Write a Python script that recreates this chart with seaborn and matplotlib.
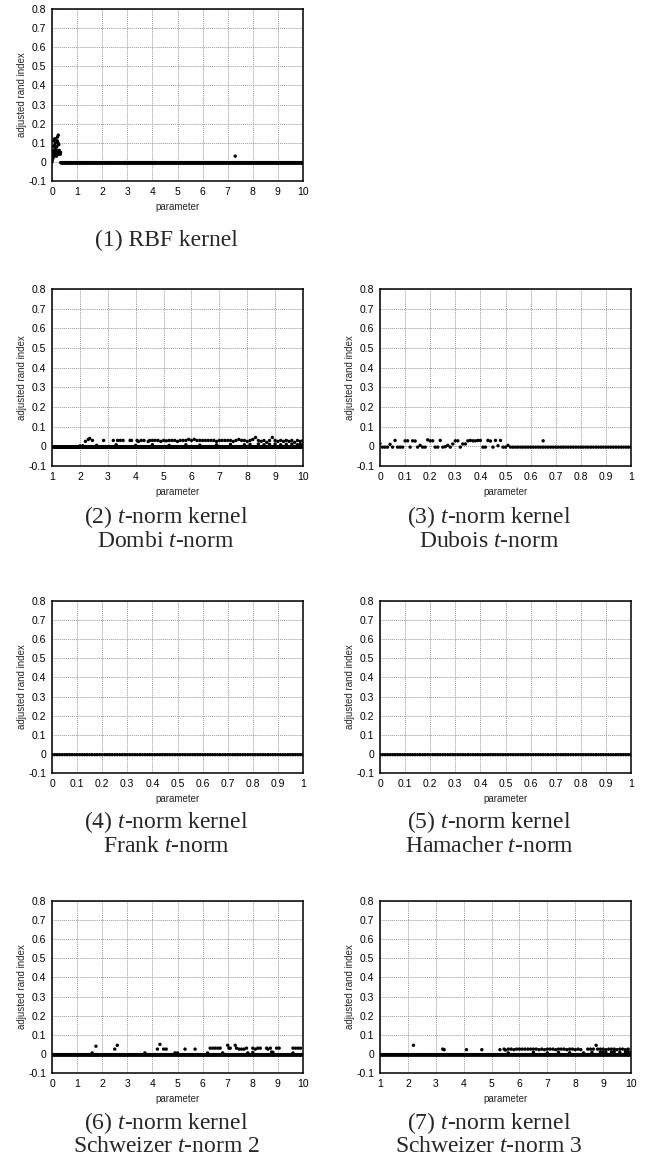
import numpy as np
import pandas as pd
import matplotlib
matplotlib.use("Agg")
import matplotlib.pyplot as plt
import seaborn as sns

sns.set_style("white")
plt.rcParams['font.family'] = ['Liberation Sans', 'DejaVu Sans']
plt.rcParams['mathtext.fontset'] = 'custom'
plt.rcParams['mathtext.rm'] = 'Liberation Serif'
plt.rcParams['mathtext.it'] = 'Liberation Serif:italic'

# ---------------- data ----------------
BASELINE_ARI = -0.004          # value of the flat run of points at ~0
GRID_STEP = 0.01               # parameter sampling step

# (1) RBF kernel: non-zero cluster near 0, then flat, one outlier
rbf_x = [0.00, 0.01, 0.02, 0.03, 0.04, 0.05, 0.06, 0.07, 0.08, 0.09, 0.10, 0.11,
         0.12, 0.13, 0.14, 0.15, 0.16, 0.17, 0.18, 0.19, 0.20, 0.21, 0.22, 0.23,
         0.24, 0.25, 0.26, 0.27, 0.28, 0.29, 0.30, 0.31, 0.32, 0.33, 0.34, 7.30]
rbf_y = [0.00, 0.01, 0.03, 0.05, 0.02, 0.04, 0.08, 0.11, 0.06, 0.03, 0.12, 0.09,
         0.05, 0.12, 0.07, 0.10, 0.04, 0.06, 0.03, 0.08, 0.05, 0.11, 0.13, 0.06,
         0.10, 0.14, 0.04, 0.09, 0.05, 0.06, 0.05, 0.05, 0.05, 0.04, 0.05, 0.03]
rbf_flat_range = (0.35, 10.0)

# (2) Dombi t-norm
dombi_x = [2.00, 2.10, 2.20, 2.30, 2.35, 2.45, 2.60, 2.85, 3.20, 3.35, 3.45, 3.55,
           3.80, 3.85, 4.05, 4.10, 4.20, 4.30, 4.45, 4.50, 4.60, 4.70, 4.80, 4.90,
           5.00, 5.10, 5.20, 5.30, 5.40, 5.50, 5.60, 5.70, 5.80, 5.90, 6.00, 6.10,
           6.20, 6.30, 6.40, 6.50, 6.60, 6.70, 6.80, 6.90, 7.00, 7.10, 7.20, 7.30,
           7.40, 7.50, 7.60, 7.70, 7.80, 7.90, 8.00, 8.10, 8.20, 8.30, 8.40, 8.50,
           8.60, 8.70, 8.80, 8.90, 9.00, 9.10, 9.20, 9.30, 9.40, 9.50, 9.60, 9.70,
           9.80, 9.90, 10.00,
           3.30, 4.00, 4.60, 5.20, 5.80, 6.30, 6.90, 7.40, 7.90, 8.10, 8.40, 8.60,
           8.80, 9.00, 9.20, 9.40, 9.60, 9.80, 9.90, 10.00]
dombi_y = [0.002, 0.003, 0.025, 0.035, 0.040, 0.030, 0.005, 0.030, 0.030, 0.030, 0.030, 0.030,
           0.030, 0.030, 0.030, 0.025, 0.030, 0.030, 0.025, 0.030, 0.030, 0.030, 0.030, 0.025,
           0.030, 0.028, 0.030, 0.030, 0.030, 0.025, 0.030, 0.030, 0.030, 0.035, 0.030, 0.035,
           0.030, 0.030, 0.030, 0.030, 0.030, 0.030, 0.030, 0.025, 0.030, 0.030, 0.030, 0.030,
           0.030, 0.025, 0.030, 0.035, 0.030, 0.030, 0.025, 0.030, 0.035, 0.045, 0.030, 0.025,
           0.030, 0.020, 0.030, 0.045, 0.030, 0.025, 0.030, 0.025, 0.030, 0.025, 0.030, 0.020,
           0.030, 0.025, 0.030,
           0.008, 0.005, 0.008, 0.005, 0.008, 0.006, 0.008, 0.010, 0.008, 0.010, 0.012, 0.008,
           0.010, 0.012, 0.008, 0.010, 0.012, 0.008, 0.010, 0.012]
dombi_flat_range = (1.0, 10.0)

# (3) Dubois t-norm
dubois_x = [0.00, 0.01, 0.02, 0.03, 0.04, 0.05, 0.06, 0.07, 0.08, 0.09, 0.10, 0.11,
            0.12, 0.13, 0.14, 0.15, 0.16, 0.17, 0.18, 0.19, 0.20, 0.21, 0.22, 0.23,
            0.24, 0.25, 0.26, 0.27, 0.28, 0.29, 0.30, 0.31, 0.32, 0.33, 0.34, 0.35,
            0.36, 0.37, 0.38, 0.39, 0.40, 0.41, 0.42, 0.43, 0.44, 0.45, 0.46, 0.47,
            0.48, 0.49, 0.50, 0.51, 0.65]
dubois_y = [0.014, -0.004, -0.004, -0.004, 0.010, -0.004, 0.030, -0.004, -0.004, -0.004, 0.028, 0.028,
            -0.004, 0.028, 0.027, -0.004, 0.005, -0.004, -0.004, 0.033, 0.028, 0.028, -0.004, -0.004,
            0.030, -0.004, -0.002, 0.005, -0.004, 0.012, 0.028, 0.028, -0.004, 0.012, 0.012, 0.028,
            0.030, 0.028, 0.028, 0.030, 0.030, -0.004, -0.004, 0.030, 0.027, -0.004, 0.030, 0.003,
            0.030, -0.004, -0.004, 0.005, 0.028]
dubois_flat_range = (0.52, 1.0)

# (4) Frank / (5) Hamacher: entirely flat
frank_flat_range = (0.0, 1.0)
hamacher_flat_range = (0.0, 1.0)

# (6) Schweizer t-norm 2
schw2_x = [1.75, 2.50, 2.60, 4.20, 4.30, 4.45, 4.55, 5.30, 5.70, 6.30, 6.40, 6.50,
           6.60, 6.70, 7.00, 7.05, 7.10, 7.30, 7.35, 7.45, 7.55, 7.65, 7.75, 8.00,
           8.10, 8.20, 8.30, 8.55, 8.60, 8.70, 8.95, 9.05, 9.60, 9.70, 9.80, 9.90,
           1.60, 3.70, 4.90, 5.00, 6.20, 6.80, 7.80, 8.00, 8.75, 8.80, 9.60]
schw2_y = [0.040, 0.025, 0.045, 0.025, 0.050, 0.025, 0.025, 0.025, 0.025, 0.030, 0.030, 0.030,
           0.030, 0.030, 0.045, 0.030, 0.030, 0.045, 0.030, 0.025, 0.025, 0.025, 0.030, 0.030,
           0.025, 0.030, 0.030, 0.030, 0.025, 0.030, 0.030, 0.030, 0.030, 0.030, 0.030, 0.030,
           0.005, 0.005, 0.005, 0.005, 0.005, 0.005, 0.005, 0.008, 0.010, 0.008, 0.005]
schw2_flat_range = (0.0, 10.0)

# (7) Schweizer t-norm 3
schw3_x = [2.20, 3.25, 3.30, 4.10, 4.65, 5.30, 5.45, 5.50, 5.60, 5.70, 5.80, 5.90,
           6.00, 6.10, 6.20, 6.30, 6.40, 6.50, 6.60, 6.70, 6.80, 6.90, 7.00, 7.10,
           7.20, 7.30, 7.40, 7.50, 7.60, 7.70, 7.80, 7.90, 8.00, 8.10, 8.20, 8.45,
           8.55, 8.65, 8.75, 8.80, 8.90, 9.00, 9.10, 9.20, 9.30, 9.40, 9.50, 9.60,
           9.70, 9.80, 9.90,
           5.60, 6.50, 7.00, 7.40, 7.80, 8.30, 8.60, 8.90, 9.00, 9.10, 9.30, 9.40,
           9.60, 9.80, 9.90, 10.00]
schw3_y = [0.045, 0.025, 0.022, 0.022, 0.022, 0.022, 0.025, 0.020, 0.025, 0.025, 0.022, 0.025,
           0.025, 0.025, 0.025, 0.025, 0.025, 0.025, 0.025, 0.022, 0.025, 0.022, 0.025, 0.025,
           0.025, 0.022, 0.025, 0.025, 0.025, 0.022, 0.025, 0.025, 0.022, 0.025, 0.022, 0.025,
           0.025, 0.025, 0.045, 0.025, 0.025, 0.025, 0.022, 0.025, 0.025, 0.025, 0.022, 0.025,
           0.025, 0.022, 0.025,
           0.005, 0.008, 0.005, 0.008, 0.006, 0.005, 0.008, 0.010, 0.012, 0.008, 0.010, 0.012,
           0.008, 0.010, 0.012, 0.008]
schw3_flat_range = (1.0, 10.0)

ytick_vals = [-0.1, 0.0, 0.1, 0.2, 0.3, 0.4, 0.5, 0.6, 0.7, 0.8]
ytick_labels = ["-0.1", "0", "0.1", "0.2", "0.3", "0.4", "0.5", "0.6", "0.7", "0.8"]
xticks_0_10 = [0, 1, 2, 3, 4, 5, 6, 7, 8, 9, 10]
xticks_1_10 = [1, 2, 3, 4, 5, 6, 7, 8, 9, 10]
xticks_0_1 = [0, 0.1, 0.2, 0.3, 0.4, 0.5, 0.6, 0.7, 0.8, 0.9, 1.0]
xlabels_0_1 = ["0", "0.1", "0.2", "0.3", "0.4", "0.5", "0.6", "0.7", "0.8", "0.9", "1"]

captions = [
    ["(1) RBF kernel"],
    ["(2) $t$-norm kernel", "Dombi $t$-norm"],
    ["(3) $t$-norm kernel", "Dubois $t$-norm"],
    ["(4) $t$-norm kernel", "Frank $t$-norm"],
    ["(5) $t$-norm kernel", "Hamacher $t$-norm"],
    ["(6) $t$-norm kernel", "Schweizer $t$-norm 2"],
    ["(7) $t$-norm kernel", "Schweizer $t$-norm 3"],
]

# ---------------- layout ----------------
W, H = 648, 1171
fig = plt.figure(figsize=(W / 100, H / 100), dpi=100)
fig.patch.set_facecolor("white")

col_left = [52, 380]
col_w = 251
rows = [(9, 181), (289, 466), (601, 773), (901, 1073)]
cap_y = [(240,), (517, 541), (822, 846), (1123, 1147)]
cap_x = [166, 489]


def make_ax(col, row):
    top, bot = rows[row]
    l = col_left[col]
    return fig.add_axes([l / W, 1 - bot / H, col_w / W, (bot - top) / H])


def flat_points(rng):
    xs = np.round(np.arange(rng[0], rng[1] + GRID_STEP / 2, GRID_STEP), 2)
    return xs, np.full(len(xs), BASELINE_ARI)


def draw(ax, var_x, var_y, flat_rng, xlim, xticks, xlabels):
    fx, fy = flat_points(flat_rng)
    df = pd.DataFrame({"parameter": np.concatenate([fx, np.asarray(var_x, float)]),
                       "ari": np.concatenate([fy, np.asarray(var_y, float)])})
    sns.scatterplot(data=df, x="parameter", y="ari", ax=ax, color="black",
                    s=6, linewidth=0, edgecolor="none", marker="o", zorder=3)
    ax.set_xlim(*xlim)
    ax.set_ylim(-0.1, 0.8)
    ax.set_xticks(xticks)
    ax.set_xticklabels(xlabels)
    ax.set_yticks(ytick_vals)
    ax.set_yticklabels(ytick_labels)
    ax.tick_params(axis="both", length=0, labelsize=7.5, pad=4, colors="black")
    ax.grid(True, color="#9a9a9a", linestyle=(0, (1, 1)), linewidth=0.7, zorder=0)
    ax.set_axisbelow(True)
    for sp in ax.spines.values():
        sp.set_visible(True)
        sp.set_color("black")
        sp.set_linewidth(1.1)
    ax.set_xlabel("parameter", fontsize=7, labelpad=4)
    ax.set_ylabel("adjusted rand index", fontsize=7, labelpad=1)


specs = [
    (0, 0, rbf_x, rbf_y, rbf_flat_range, (0, 10), xticks_0_10, [str(v) for v in xticks_0_10]),
    (0, 1, dombi_x, dombi_y, dombi_flat_range, (1, 10), xticks_1_10, [str(v) for v in xticks_1_10]),
    (1, 1, dubois_x, dubois_y, dubois_flat_range, (0, 1), xticks_0_1, xlabels_0_1),
    (0, 2, [], [], frank_flat_range, (0, 1), xticks_0_1, xlabels_0_1),
    (1, 2, [], [], hamacher_flat_range, (0, 1), xticks_0_1, xlabels_0_1),
    (0, 3, schw2_x, schw2_y, schw2_flat_range, (0, 10), xticks_0_10, [str(v) for v in xticks_0_10]),
    (1, 3, schw3_x, schw3_y, schw3_flat_range, (1, 10), xticks_1_10, [str(v) for v in xticks_1_10]),
]

for i, (col, row, vx, vy, frng, xlim, xt, xl) in enumerate(specs):
    ax = make_ax(col, row)
    draw(ax, vx, vy, frng, xlim, xt, xl)
    for line, yy in zip(captions[i], cap_y[row]):
        fig.text(cap_x[col] / W, 1 - yy / H, line, ha="center", va="center",
                 fontsize=17, family="Liberation Serif")

fig.savefig("out.png", dpi=100, facecolor="white")
